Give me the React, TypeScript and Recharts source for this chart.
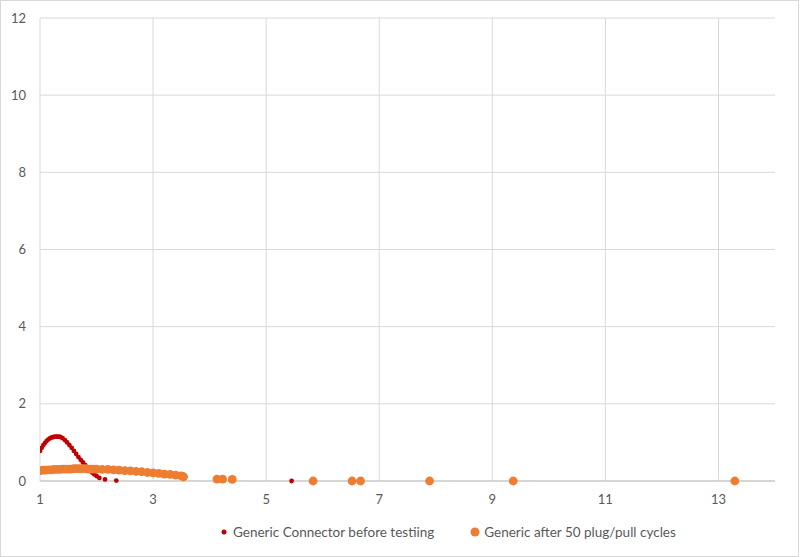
import { ScatterChart, Scatter, XAxis, YAxis, CartesianGrid, Legend } from 'recharts';

// Generic connector, before testing (x, y)
const beforeX = [
  1.0, 1.03, 1.06, 1.09, 1.12, 1.15, 1.18, 1.21, 1.24, 1.27, 1.3, 1.33, 1.36, 1.4, 1.44, 1.48, 1.52, 1.56,
  1.6, 1.64, 1.68, 1.72, 1.76, 1.8, 1.84, 1.88, 1.92, 1.96, 2.0, 2.05, 2.15, 2.35, 5.45,
];
const beforeY = [
  0.78, 0.86, 0.93, 0.99, 1.04, 1.08, 1.11, 1.13, 1.14, 1.15, 1.15, 1.15, 1.14, 1.11, 1.06, 1.0, 0.93, 0.86,
  0.78, 0.7, 0.62, 0.55, 0.48, 0.41, 0.34, 0.28, 0.22, 0.17, 0.13, 0.08, 0.04, 0.01, 0.0,
];

// Generic connector, after 50 plug/pull cycles (x, y)
const afterX = [
  1.0, 1.05, 1.1, 1.15, 1.2, 1.25, 1.3, 1.35, 1.4, 1.45, 1.5, 1.55, 1.6, 1.65, 1.7, 1.75, 1.8, 1.85, 1.9,
  1.95, 2.0, 2.1, 2.2, 2.3, 2.4, 2.5, 2.6, 2.7, 2.8, 2.9, 3.0, 3.1, 3.2, 3.3, 3.4, 3.5, 3.54, 4.13, 4.23,
  4.4, 5.83, 6.52, 6.67, 7.89, 9.37, 13.29,
];
const afterY = [
  0.27, 0.28, 0.28, 0.29, 0.29, 0.3, 0.3, 0.3, 0.31, 0.31, 0.31, 0.31, 0.32, 0.32, 0.32, 0.32, 0.32, 0.31,
  0.31, 0.31, 0.31, 0.3, 0.3, 0.29, 0.28, 0.27, 0.26, 0.25, 0.24, 0.22, 0.21, 0.2, 0.18, 0.17, 0.15, 0.13,
  0.11, 0.05, 0.05, 0.04, 0.0, 0.0, 0.0, 0.0, 0.0, 0.0,
];

const xTicks = [1, 3, 5, 7, 9, 11, 13];
const yTicks = [0, 2, 4, 6, 8, 10, 12];

const seriesNames = ['Generic Connector before testiing', 'Generic after 50 plug/pull cycles'];

const RED = '#C00000';
const ORANGE = '#ED7D31';
const FONT = 'Lato, "Open Sans", sans-serif';

const beforeData = beforeX.map((x, i) => ({ x, y: beforeY[i] }));
const afterData = afterX.map((x, i) => ({ x, y: afterY[i] }));

function dot(r: number, fill: string) {
  return (p: any) => <circle cx={p.cx} cy={p.cy} r={r} fill={fill} />;
}

function LegendContent() {
  const items = [
    { name: seriesNames[0], color: RED, r: 2.5 },
    { name: seriesNames[1], color: ORANGE, r: 4.5 },
  ];
  return (
    <div style={{ display: 'flex', gap: 36, height: 24, alignItems: 'center', paddingLeft: 218 }}>
      {items.map((it) => (
        <div key={it.name} style={{ display: 'flex', alignItems: 'center', gap: 4 }}>
          <svg width={10} height={10}>
            <circle cx={5} cy={5} r={it.r} fill={it.color} />
          </svg>
          <span style={{ fontFamily: FONT, fontSize: 13.5, color: '#595959' }}>{it.name}</span>
        </div>
      ))}
    </div>
  );
}

export default function App() {
  const tick = { fontSize: 13, fill: '#595959', fontFamily: FONT };
  return (
    <div style={{ width: 799, height: 557, border: '1px solid #D9D9D9', boxSizing: 'border-box', background: '#fff' }}>
      <style>{'body{margin:0}'}</style>
      <ScatterChart width={797} height={555} margin={{ top: 17, right: 23, left: -1, bottom: 21 }}>
        <CartesianGrid stroke="#D9D9D9" verticalValues={xTicks} horizontalValues={yTicks} />
        <XAxis
          type="number"
          dataKey="x"
          domain={[1, 14]}
          ticks={xTicks}
          allowDataOverflow
          tickLine={false}
          tickSize={0}
          tickMargin={14}
          height={30}
          stroke="#BFBFBF"
          tick={tick}
        />
        <YAxis
          type="number"
          dataKey="y"
          domain={[0, 12]}
          ticks={yTicks}
          axisLine={false}
          tickLine={false}
          tickSize={0}
          tickMargin={14}
          width={40}
          tick={tick}
        />
        <Legend verticalAlign="bottom" content={<LegendContent />} wrapperStyle={{ bottom: 12, left: 0, width: 797 }} />
        <Scatter name={seriesNames[0]} data={beforeData} fill={RED} shape={dot(2.4, RED)} isAnimationActive={false} />
        <Scatter name={seriesNames[1]} data={afterData} fill={ORANGE} shape={dot(4.4, ORANGE)} isAnimationActive={false} />
      </ScatterChart>
    </div>
  );
}
